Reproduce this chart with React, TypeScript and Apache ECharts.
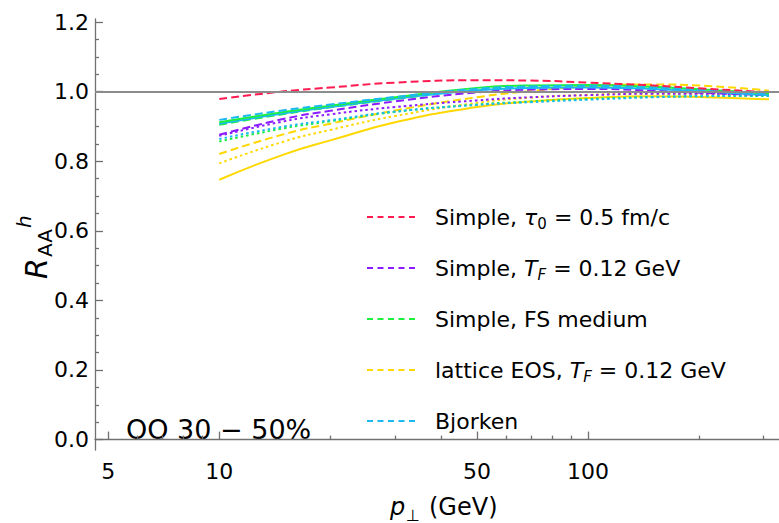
import React, { useEffect, useRef } from "react";
import * as echarts from "echarts";

const FONT = "DejaVu Sans";

// transverse momentum sample points (GeV)
const pT = [10, 15, 20, 30, 50, 70, 100, 150, 200, 310];

// R_AA^h readings
const simpleTau0Dashed = [0.979, 1.001, 1.012, 1.026, 1.033, 1.032, 1.026, 1.018, 1.01, 0.998];
const simpleTFDashed = [0.876, 0.922, 0.945, 0.972, 0.998, 1.006, 1.008, 1.003, 0.997, 0.99];
const simpleTFDotted = [0.873, 0.915, 0.935, 0.956, 0.975, 0.984, 0.99, 0.994, 0.994, 0.992];
const fsSolid = [0.912, 0.942, 0.96, 0.984, 1.011, 1.018, 1.019, 1.014, 1.007, 0.995];
const fsDashed = [0.905, 0.936, 0.955, 0.979, 1.006, 1.014, 1.016, 1.012, 1.006, 0.996];
const fsDotted = [0.857, 0.895, 0.915, 0.942, 0.963, 0.972, 0.979, 0.985, 0.987, 0.988];
const latticeDashed = [0.821, 0.878, 0.908, 0.946, 0.984, 1.002, 1.015, 1.021, 1.018, 1.003];
const latticeDotted = [0.794, 0.857, 0.89, 0.93, 0.968, 0.983, 0.991, 0.995, 0.994, 0.99];
const latticeSolid = [0.747, 0.82, 0.86, 0.912, 0.956, 0.972, 0.982, 0.987, 0.985, 0.978];
const bjorkenDashed = [0.919, 0.947, 0.963, 0.985, 1.008, 1.015, 1.017, 1.012, 1.005, 0.993];
const bjorkenSolid = [0.908, 0.938, 0.956, 0.98, 1.004, 1.011, 1.012, 1.008, 1.002, 0.99];
const bjorkenDotted = [0.864, 0.9, 0.918, 0.943, 0.962, 0.97, 0.977, 0.984, 0.987, 0.989];

const legendNames = [
  "Simple, τ0 = 0.5 fm/c",
  "Simple, TF = 0.12 GeV",
  "Simple, FS medium",
  "lattice EOS, TF = 0.12 GeV",
  "Bjorken",
];
const legendRich = [
  "Simple, {it|τ}{sub|0} = 0.5 fm/c",
  "Simple, {it|T}{subi|F} = 0.12 GeV",
  "Simple, FS medium",
  "lattice EOS, {it|T}{subi|F} = 0.12 GeV",
  "Bjorken",
];
const colors = ["#ff1a50", "#8a1cff", "#1cf03c", "#ffd800", "#1cb8f2"];

const xMajorTicks = [5, 10, 50, 100];
const xMinorTicks = [6, 7, 8, 9, 20, 30, 40, 60, 70, 80, 90, 200, 300];
const yMajorTicks = [0, 0.2, 0.4, 0.6, 0.8, 1.0, 1.2];
const yMinorTicks = [0.05, 0.1, 0.15, 0.25, 0.3, 0.35, 0.45, 0.5, 0.55, 0.65, 0.7, 0.75, 0.85, 0.9, 0.95, 1.05, 1.1, 1.15];

const X_MIN = 4.6;
const X_MAX = 330;
const Y_MIN = -0.03;
const Y_MAX = 1.209;

const DASH = [8, 4];
const DOT = [2.5, 3];

type Curve = { vals: number[]; color: number; style: "solid" | "dashed" | "dotted" };
const curves: Curve[] = [
  { vals: latticeSolid, color: 3, style: "solid" },
  { vals: latticeDotted, color: 3, style: "dotted" },
  { vals: latticeDashed, color: 3, style: "dashed" },
  { vals: fsDotted, color: 2, style: "dotted" },
  { vals: bjorkenDotted, color: 4, style: "dotted" },
  { vals: simpleTFDotted, color: 1, style: "dotted" },
  { vals: simpleTFDashed, color: 1, style: "dashed" },
  { vals: fsDashed, color: 2, style: "dashed" },
  { vals: bjorkenSolid, color: 4, style: "solid" },
  { vals: fsSolid, color: 2, style: "solid" },
  { vals: bjorkenDashed, color: 4, style: "dashed" },
  { vals: simpleTau0Dashed, color: 0, style: "dashed" },
];

export default function App() {
  const ref = useRef<HTMLDivElement>(null);
  useEffect(() => {
    if (!ref.current) return;
    const chart = echarts.init(ref.current, null, { renderer: "svg" });
    const axisColor = "#707070";
    const grid = { left: 95, right: 0, top: 19, bottom: 73 };

    const lineSeries: any[] = curves.map((c, i) => ({
      type: "line",
      name: "curve" + i,
      xAxisIndex: 0,
      yAxisIndex: 0,
      data: pT.map((p, k) => [p, c.vals[k]]),
      smooth: 0.5,
      symbol: "none",
      lineStyle: {
        color: colors[c.color],
        width: 2,
        type: c.style === "solid" ? "solid" : c.style === "dashed" ? DASH : DOT,
      },
      z: 3,
    }));
    const legendSeries: any[] = legendNames.map((n, i) => ({
      type: "line",
      name: n,
      xAxisIndex: 0,
      yAxisIndex: 0,
      data: [],
      symbol: "none",
      showSymbol: false,
      itemStyle: { color: colors[i] },
      lineStyle: { color: colors[i], width: 2, type: [6, 4.5] },
    }));
    const refSeries = {
      type: "line",
      name: "ref",
      xAxisIndex: 0,
      yAxisIndex: 0,
      data: [],
      symbol: "none",
      markLine: {
        silent: true,
        symbol: "none",
        label: { show: false },
        lineStyle: { color: "#8c8c8c", type: "solid", width: 2 },
        data: [{ yAxis: 1 }],
      },
      z: 2,
    };

    const labelText = { fontFamily: FONT, color: "#000" };

    chart.setOption({
      animation: false,
      grid: [grid, { ...grid }],
      xAxis: [
        {
          type: "log",
          gridIndex: 0,
          min: X_MIN,
          max: X_MAX,
          axisLine: { show: true, lineStyle: { color: axisColor, width: 1.3 } },
          axisTick: { show: true, inside: true, length: 8, customValues: xMajorTicks, lineStyle: { color: axisColor, width: 1.3 } },
          axisLabel: { customValues: xMajorTicks, fontSize: 22, margin: 10, ...labelText, formatter: (v: number) => String(Math.round(v)) },
          splitLine: { show: false },
          minorTick: { show: false },
        },
        {
          type: "log",
          gridIndex: 1,
          min: X_MIN,
          max: X_MAX,
          axisLine: { show: false },
          axisTick: { show: true, inside: true, length: 4, customValues: xMinorTicks, lineStyle: { color: axisColor, width: 1.3 } },
          axisLabel: { show: false },
          splitLine: { show: false },
        },
      ],
      yAxis: [
        {
          type: "value",
          gridIndex: 0,
          min: Y_MIN,
          max: Y_MAX,
          axisLine: { show: true, lineStyle: { color: axisColor, width: 1.3 } },
          axisTick: { show: true, inside: true, length: 8, customValues: yMajorTicks, lineStyle: { color: axisColor, width: 1.3 } },
          axisLabel: { customValues: yMajorTicks, fontSize: 22, margin: 6, ...labelText, formatter: (v: number) => v.toFixed(1) },
          splitLine: { show: false },
        },
        {
          type: "value",
          gridIndex: 1,
          min: Y_MIN,
          max: Y_MAX,
          axisLine: { show: false },
          axisTick: { show: true, inside: true, length: 4, customValues: yMinorTicks, lineStyle: { color: axisColor, width: 1.3 } },
          axisLabel: { show: false },
          splitLine: { show: false },
        },
      ],
      legend: {
        data: legendNames.map((n, i) => ({
          name: n,
          itemStyle: { opacity: 0 },
          lineStyle: { color: colors[i], width: 2, type: [6, 4.5], opacity: 1 },
        })),
        orient: "vertical",
        left: 366,
        top: 203,
        padding: 0,
        itemWidth: 49,
        itemHeight: 14,
        itemGap: 23,
        selectedMode: false,
        itemStyle: { opacity: 0 },
        formatter: (name: string) => legendRich[legendNames.indexOf(name)],
        textStyle: {
          fontFamily: FONT,
          fontSize: 22,
          color: "#000",
          lineHeight: 28,
          padding: [0, 0, 0, 14],
          rich: {
            it: { fontFamily: FONT, fontSize: 22, fontStyle: "italic", color: "#000", lineHeight: 28 },
            sub: { fontFamily: FONT, fontSize: 15, color: "#000", lineHeight: 16, verticalAlign: "bottom" },
            subi: { fontFamily: FONT, fontSize: 15, fontStyle: "italic", color: "#000", lineHeight: 16, verticalAlign: "bottom" },
          },
        },
      },
      graphic: [
        {
          type: "text",
          left: 126,
          top: 416,
          style: { text: "OO 30 − 50%", fontFamily: FONT, fontSize: 27, fill: "#000" },
        },
        {
          type: "text",
          x: 390,
          y: 507,
          style: { text: "p", fontFamily: FONT, fontSize: 24, fontStyle: "italic", fill: "#000", verticalAlign: "middle", align: "left" },
        },
        {
          type: "text",
          x: 406,
          y: 515,
          style: { text: "⊥", fontFamily: FONT, fontSize: 16, fill: "#000", verticalAlign: "middle", align: "left" },
        },
        {
          type: "text",
          x: 429,
          y: 507,
          style: { text: "(GeV)", fontFamily: FONT, fontSize: 24, fill: "#000", verticalAlign: "middle", align: "left" },
        },
        {
          type: "text",
          x: 36,
          y: 279,
          rotation: Math.PI / 2,
          style: { text: "R", fontFamily: FONT, fontSize: 30, fontStyle: "italic", fill: "#000", verticalAlign: "middle", align: "left" },
        },
        {
          type: "text",
          x: 45,
          y: 257,
          rotation: Math.PI / 2,
          style: { text: "AA", fontFamily: FONT, fontSize: 20, fill: "#000", verticalAlign: "middle", align: "left" },
        },
        {
          type: "text",
          x: 24,
          y: 228,
          rotation: Math.PI / 2,
          style: { text: "h", fontFamily: FONT, fontSize: 20, fontStyle: "italic", fill: "#000", verticalAlign: "middle", align: "left" },
        },
      ],
      series: [refSeries, ...lineSeries, ...legendSeries],
    });
    return () => chart.dispose();
  }, []);
  return <div ref={ref} style={{ width: 779, height: 523, position: "absolute", left: 0, top: 0 }} />;
}
